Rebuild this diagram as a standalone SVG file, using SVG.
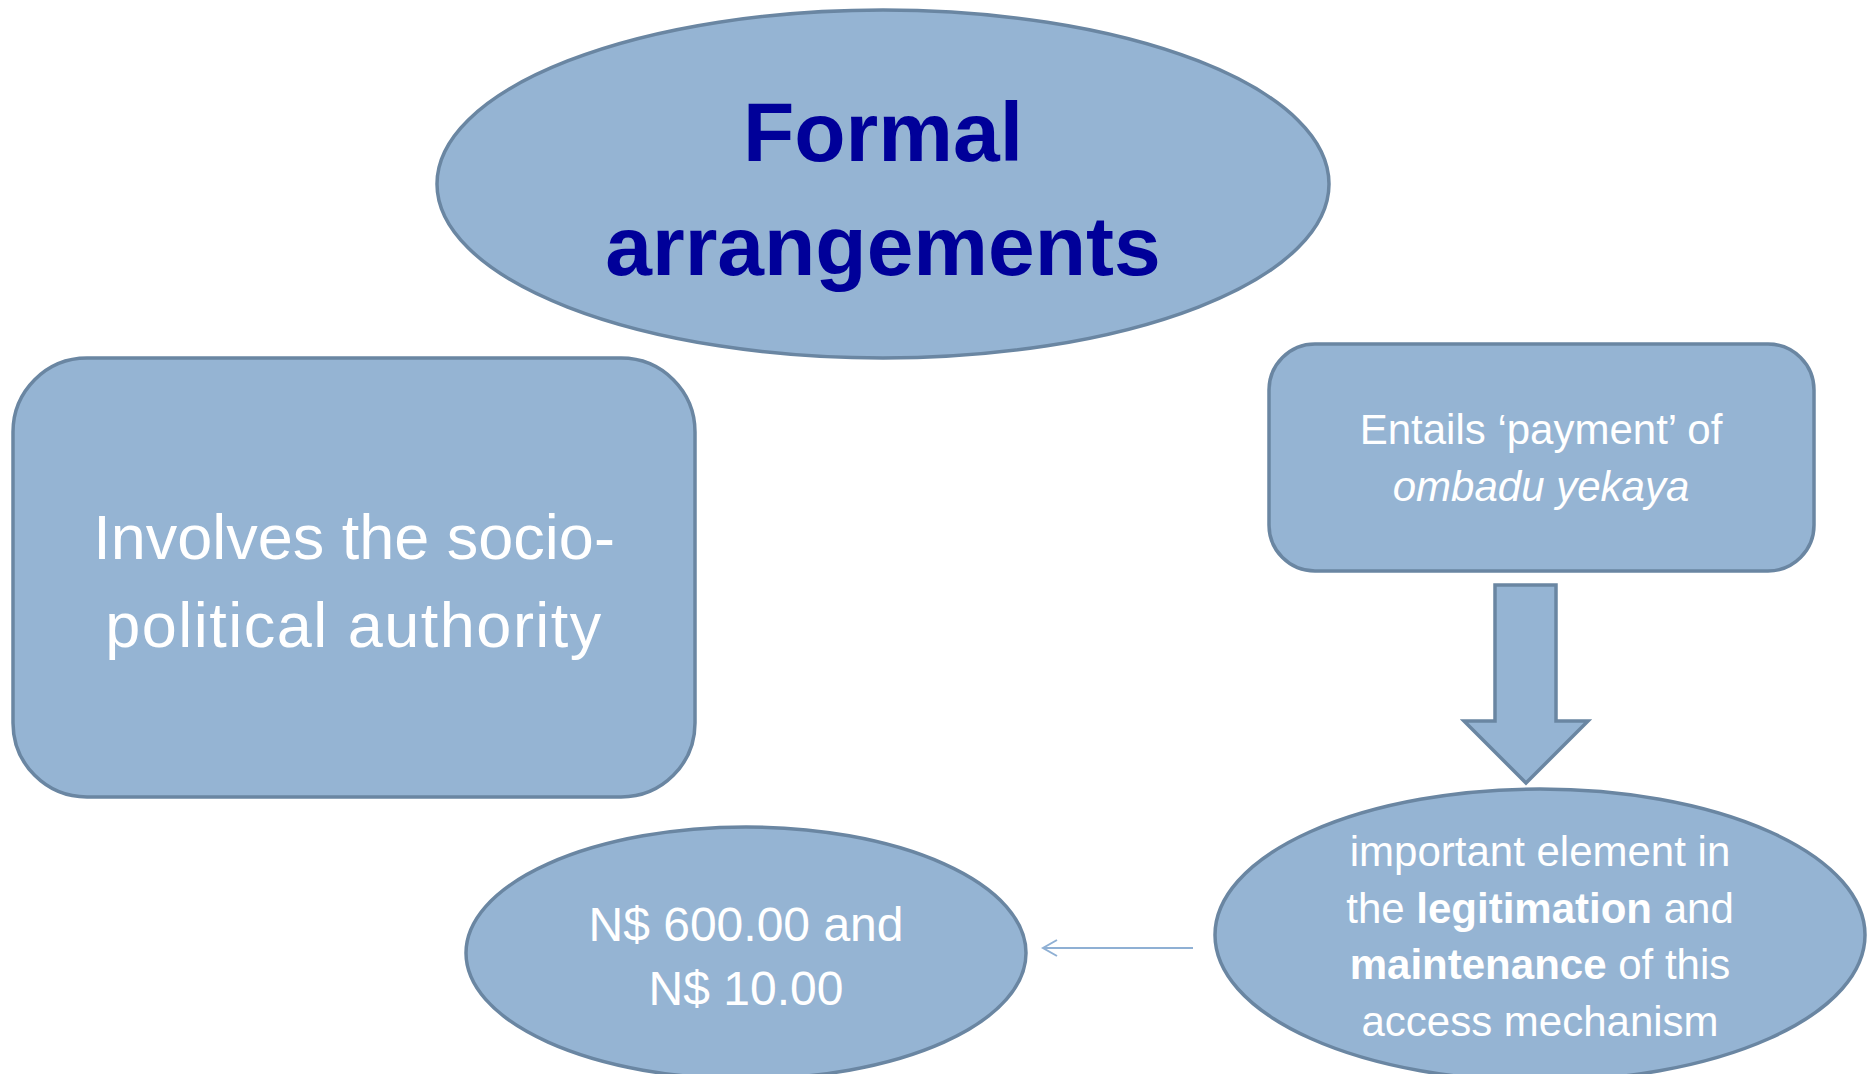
<svg xmlns="http://www.w3.org/2000/svg" width="1872" height="1074" viewBox="0 0 1872 1074">
<defs>
<style>
.shape{fill:#95b4d3;stroke:#6a86a2;stroke-width:3.5}
.t{font-family:"Liberation Sans",Arial,sans-serif;fill:#ffffff;text-anchor:middle}
.title{font-family:"Liberation Sans",Arial,sans-serif;font-weight:bold;fill:#000099;text-anchor:middle;font-size:84px}
.conn{fill:none;stroke:#8fb0d4;stroke-width:2}
</style>
<marker id="open" viewBox="0 0 20 20" refX="18" refY="10" markerWidth="20" markerHeight="20" markerUnits="userSpaceOnUse" orient="auto">
<path d="M4,2 L18,10 L4,18" fill="none" stroke="#8fb0d4" stroke-width="2"/>
</marker>
</defs>
<rect width="1872" height="1074" fill="#ffffff"/>
<g id="title">
<ellipse class="shape" cx="883" cy="184" rx="446" ry="174"/>
<text class="title" x="883" y="161">Formal</text>
<text class="title" x="883" y="275">arrangements</text>
</g>
<g id="authority">
<rect class="shape" x="13" y="358" width="682" height="439" rx="74" ry="74"/>
<text class="t" x="354" y="559" font-size="63">Involves the socio-</text>
<text class="t" x="354" y="647" font-size="63" letter-spacing="1.5">political authority</text>
</g>
<g id="payment">
<rect class="shape" x="1269" y="344" width="545" height="227" rx="46" ry="46"/>
<text class="t" x="1541" y="444" font-size="42">Entails ‘payment’ of</text>
<text class="t" x="1541" y="501" font-size="42" font-style="italic">ombadu yekaya</text>
</g>
<g id="element">
<ellipse class="shape" cx="1540" cy="935" rx="325" ry="146"/>
<text class="t" x="1540" y="866" font-size="42">important element in</text>
<text class="t" x="1540" y="923" font-size="42">the <tspan font-weight="bold">legitimation</tspan> and</text>
<text class="t" x="1540" y="979" font-size="42"><tspan font-weight="bold">maintenance</tspan> of this</text>
<text class="t" x="1540" y="1036" font-size="42">access mechanism</text>
</g>
<g id="amount">
<ellipse class="shape" cx="746" cy="953" rx="280" ry="126"/>
<text class="t" x="746" y="941" font-size="48">N$ 600.00 and</text>
<text class="t" x="746" y="1005" font-size="48">N$ 10.00</text>
</g>
<g id="connectors">
<path class="shape" d="M1495,585 L1556,585 L1556,721 L1588,721 L1526,783 L1464,721 L1495,721 Z"/>
<line class="conn" x1="1193" y1="948" x2="1043" y2="948" marker-end="url(#open)"/>
</g>
</svg>
